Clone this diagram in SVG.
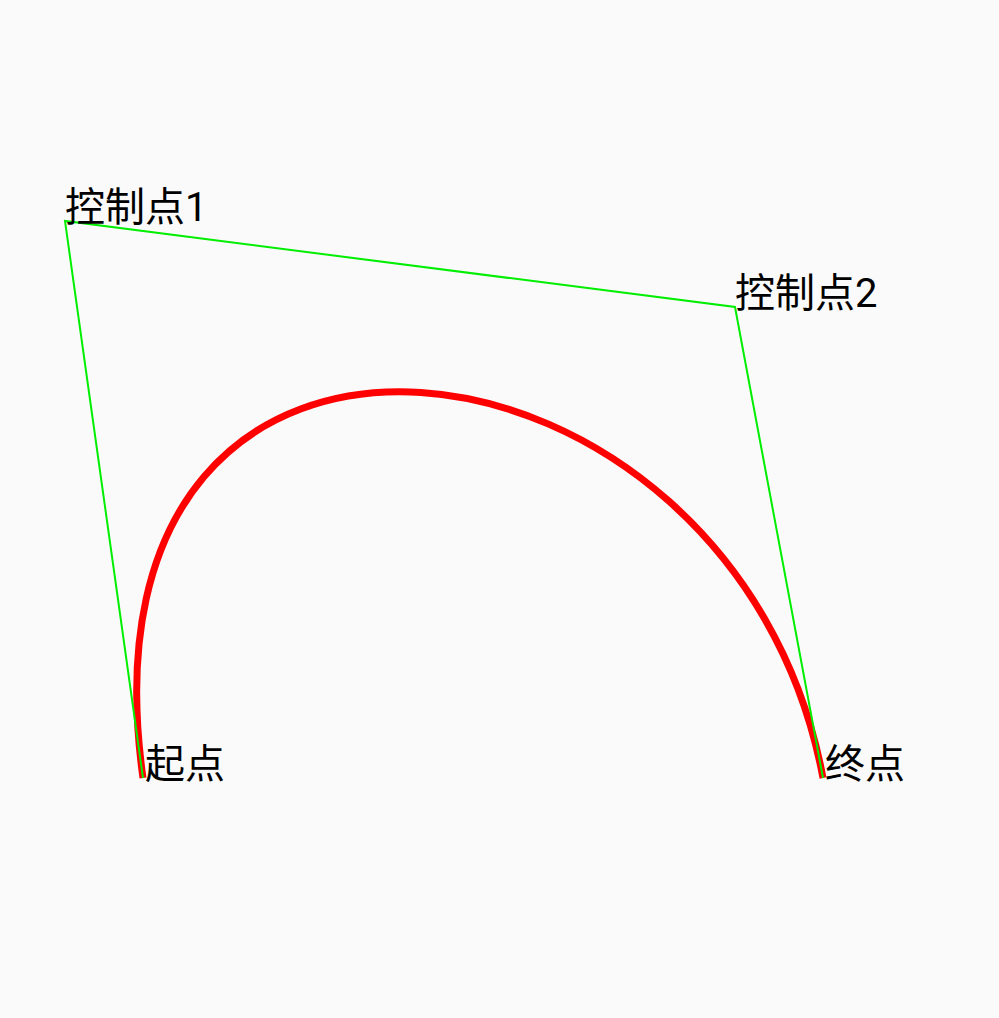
<svg xmlns="http://www.w3.org/2000/svg" width="999" height="1018" viewBox="0 0 999 1018">
<style>
.lbl{font-family:"Roboto","Noto Sans CJK SC",sans-serif;font-size:40px;fill:#000}
</style>
<rect width="999" height="1018" fill="#fafafa"/>
<g id="connectors">
<path id="curve" d="M143,778 C65,221 735,307 823,778" fill="none" stroke="#ff0000" stroke-width="7"/>
<polyline id="hull" points="143,778 65,221 735,307 823,778" fill="none" stroke="#00ee00" stroke-width="2"/>
</g>
<g id="start"><text class="lbl" x="145" y="778">起点</text></g>
<g id="end"><text class="lbl" x="825" y="778">终点</text></g>
<g id="control1"><text class="lbl" x="65" y="221">控制点1</text></g>
<g id="control2"><text class="lbl" x="735" y="307">控制点2</text></g>
</svg>
